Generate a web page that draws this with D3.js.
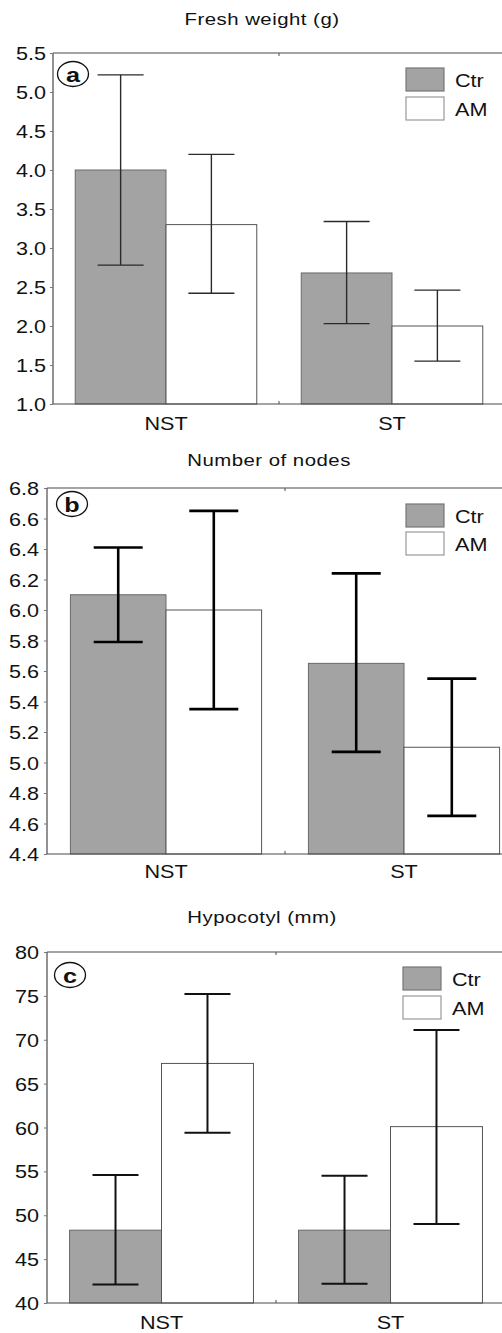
<html>
<head>
  <script src="https://d3js.org/d3.v7.min.js"></script>
  <style>
    body { margin: 0; background: #fff; }
    text { font-family: "Liberation Sans", Arial, sans-serif; fill: #111; }
  </style>
</head>
<body>
  <svg id="chart" width="502" height="1333"></svg>
  <script>
    // data
    const groups = ["NST", "ST"];
    const series = ["Ctr", "AM"];

    const freshCtr = [4.0, 2.68];
    const freshCtrLow = [2.78, 2.03];
    const freshCtrHigh = [5.22, 3.34];
    const freshAM = [3.3, 2.0];
    const freshAMLow = [2.42, 1.55];
    const freshAMHigh = [4.2, 2.46];
    const freshTicks = [1.0, 1.5, 2.0, 2.5, 3.0, 3.5, 4.0, 4.5, 5.0, 5.5];

    const nodesCtr = [6.1, 5.65];
    const nodesCtrLow = [5.79, 5.07];
    const nodesCtrHigh = [6.41, 6.24];
    const nodesAM = [6.0, 5.1];
    const nodesAMLow = [5.35, 4.65];
    const nodesAMHigh = [6.65, 5.55];
    const nodesTicks = [4.4, 4.6, 4.8, 5.0, 5.2, 5.4, 5.6, 5.8, 6.0, 6.2, 6.4, 6.6, 6.8];

    const hypoCtr = [48.3, 48.3];
    const hypoCtrLow = [42.1, 42.2];
    const hypoCtrHigh = [54.6, 54.5];
    const hypoAM = [67.3, 60.1];
    const hypoAMLow = [59.4, 49.0];
    const hypoAMHigh = [75.2, 71.1];
    const hypoTicks = [40, 45, 50, 55, 60, 65, 70, 75, 80];

    const svg = d3.select("#chart");
    const SX = 1.2; // the scan is stretched sideways

    function stretchedText(g, x, y, str, size, anchor, weight) {
      return g.append("text")
        .attr("transform", `translate(${x},${y}) scale(${SX},1)`)
        .attr("text-anchor", anchor || "middle")
        .style("font-size", size + "px")
        .style("font-weight", weight || "normal")
        .text(str);
    }

    function drawPanel(cfg) {
      const g = svg.append("g");
      const left = cfg.left, right = cfg.right, top = cfg.top, bottom = cfg.bottom;

      const y = d3.scaleLinear().domain(cfg.domain).range([bottom, top]);
      const x = d3.scaleBand().domain(groups).range([left, right]);
      const xs = d3.scaleBand().domain(series).range([0, x.bandwidth()])
        .paddingInner(0).paddingOuter(0.245);

      const rows = [];
      groups.forEach((grp, i) => {
        rows.push({ grp: grp, s: "Ctr", v: cfg.ctr[i], lo: cfg.ctrLow[i], hi: cfg.ctrHigh[i] });
        rows.push({ grp: grp, s: "AM", v: cfg.am[i], lo: cfg.amLow[i], hi: cfg.amHigh[i] });
      });

      // title
      stretchedText(g, cfg.titleX, cfg.titleY, cfg.title, 17, "middle").style("letter-spacing", "0.4px");

      // bars
      g.selectAll("rect.bar").data(rows).join("rect")
        .attr("class", "bar")
        .attr("x", d => x(d.grp) + xs(d.s))
        .attr("y", d => y(d.v))
        .attr("width", xs.bandwidth())
        .attr("height", d => bottom - y(d.v))
        .attr("fill", d => d.s === "Ctr" ? "#a3a3a3" : "#fff")
        .attr("stroke", d => d.s === "Ctr" ? "#6a6a6a" : "#555")
        .attr("stroke-width", 1);

      // error bars
      const cx = d => x(d.grp) + xs(d.s) + xs.bandwidth() / 2;
      const capW = cfg.capW;
      const eb = g.selectAll("g.err").data(rows).join("g").attr("class", "err")
        .attr("stroke", cfg.errColor).attr("stroke-width", cfg.errWidth);
      eb.append("line").attr("x1", cx).attr("x2", cx)
        .attr("y1", d => y(d.lo)).attr("y2", d => y(d.hi));
      eb.append("line").attr("x1", d => cx(d) - capW / 2).attr("x2", d => cx(d) + capW / 2)
        .attr("y1", d => y(d.hi)).attr("y2", d => y(d.hi));
      eb.append("line").attr("x1", d => cx(d) - capW / 2).attr("x2", d => cx(d) + capW / 2)
        .attr("y1", d => y(d.lo)).attr("y2", d => y(d.lo));

      // frame
      const frame = "#4a4a4a";
      g.append("line").attr("x1", left).attr("x2", right).attr("y1", top).attr("y2", top)
        .attr("stroke", frame).attr("stroke-width", 1.2);
      g.append("line").attr("x1", left).attr("x2", right).attr("y1", bottom).attr("y2", bottom)
        .attr("stroke", frame).attr("stroke-width", 1.2);
      g.append("line").attr("x1", left).attr("x2", left).attr("y1", top).attr("y2", bottom)
        .attr("stroke", frame).attr("stroke-width", 1.2);
      g.append("line").attr("x1", right).attr("x2", right).attr("y1", top).attr("y2", bottom)
        .attr("stroke", frame).attr("stroke-width", 1.2);

      // category boundary ticks on top and bottom frame
      const mid = x("ST");
      g.append("line").attr("x1", mid).attr("x2", mid).attr("y1", top).attr("y2", top + 3)
        .attr("stroke", frame);
      g.append("line").attr("x1", mid).attr("x2", mid).attr("y1", bottom).attr("y2", bottom - 3)
        .attr("stroke", frame);

      // left axis
      const yAxis = d3.axisLeft(y).tickValues(cfg.ticks).tickSize(3).tickPadding(0)
        .tickFormat(d3.format(cfg.fmt));
      const ax = g.append("g").attr("transform", `translate(${left},0)`).call(yAxis);
      ax.select(".domain").remove();
      ax.selectAll(".tick line").attr("stroke", "#777");
      ax.selectAll(".tick text")
        .attr("x", null).attr("dy", null)
        .attr("transform", `translate(${-cfg.labelGap},6.5) scale(${SX},1)`)
        .style("font-size", "18px")
        .style("font-family", "'Liberation Sans', Arial, sans-serif")
        .attr("fill", "#111");

      // right ticks
      const rAxis = d3.axisLeft(y).tickValues(cfg.ticks).tickSize(3).tickFormat("");
      const rax = g.append("g").attr("transform", `translate(${right},0)`).call(rAxis);
      rax.select(".domain").remove();
      rax.selectAll(".tick line").attr("stroke", "#777");

      // category labels
      groups.forEach(grp => {
        stretchedText(g, x(grp) + x.bandwidth() / 2, bottom + cfg.catGap, grp, 18, "middle");
      });

      // legend
      series.forEach((s, i) => {
        const ly = cfg.legendY + i * cfg.legendStep;
        g.append("rect").attr("x", cfg.legendX).attr("y", ly).attr("width", 38).attr("height", 23)
          .attr("fill", s === "Ctr" ? "#a3a3a3" : "#fff")
          .attr("stroke", s === "Ctr" ? "#777" : "#999").attr("stroke-width", 1.2);
        stretchedText(g, cfg.legendX + 49, ly + 19, s, 18, "start");
      });

      // panel letter
      g.append("ellipse").attr("cx", cfg.letterX).attr("cy", cfg.letterY)
        .attr("rx", 15.5).attr("ry", 12.5)
        .attr("fill", "none").attr("stroke", "#111").attr("stroke-width", 1.3);
      stretchedText(g, cfg.letterX, cfg.letterY + 7.5, cfg.letter, 21, "middle", "bold");
    }

    drawPanel({
      title: "Fresh weight (g)", titleX: 262, titleY: 25,
      left: 53, right: 505, top: 53, bottom: 404,
      domain: [1.0, 5.5], ticks: freshTicks, fmt: ".1f", labelGap: 7,
      ctr: freshCtr, ctrLow: freshCtrLow, ctrHigh: freshCtrHigh,
      am: freshAM, amLow: freshAMLow, amHigh: freshAMHigh,
      capW: 46, errColor: "#2a2a2a", errWidth: 1.4, catGap: 26,
      legendX: 406, legendY: 68, legendStep: 29,
      letter: "a", letterX: 73, letterY: 74
    });

    drawPanel({
      title: "Number of nodes", titleX: 269, titleY: 466,
      left: 47, right: 523, top: 488, bottom: 854,
      domain: [4.4, 6.8], ticks: nodesTicks, fmt: ".1f", labelGap: 8,
      ctr: nodesCtr, ctrLow: nodesCtrLow, ctrHigh: nodesCtrHigh,
      am: nodesAM, amLow: nodesAMLow, amHigh: nodesAMHigh,
      capW: 49, errColor: "#000", errWidth: 2.6, catGap: 24,
      legendX: 406, legendY: 504, legendStep: 28,
      letter: "b", letterX: 72, letterY: 504
    });

    drawPanel({
      title: "Hypocotyl (mm)", titleX: 262, titleY: 923,
      left: 47, right: 505, top: 952, bottom: 1303,
      domain: [40, 80], ticks: hypoTicks, fmt: "d", labelGap: 8,
      ctr: hypoCtr, ctrLow: hypoCtrLow, ctrHigh: hypoCtrHigh,
      am: hypoAM, amLow: hypoAMLow, amHigh: hypoAMHigh,
      capW: 46, errColor: "#111", errWidth: 2, catGap: 26,
      legendX: 403, legendY: 967, legendStep: 29,
      letter: "c", letterX: 70, letterY: 975
    });
  </script>
</body>
</html>
